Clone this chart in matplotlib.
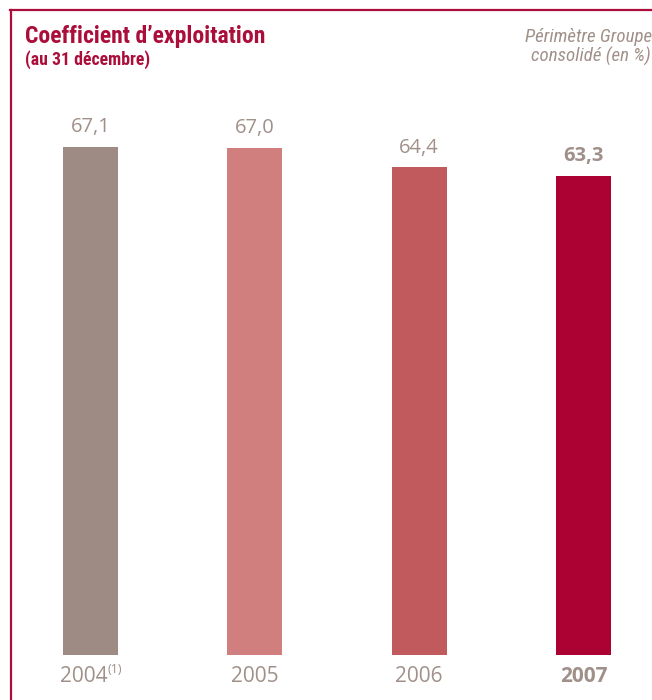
import matplotlib.pyplot as plt
from matplotlib.lines import Line2D

# ── Data ──────────────────────────────────
years = ["2004", "2005", "2006", "2007"]
values = [67.1, 67.0, 64.4, 63.3]
value_labels = ["67,1", "67,0", "64,4", "63,3"]
bar_colors = ["#9e8c84", "#d17e7e", "#c05a5c", "#ab0233"]

RED = "#ab0e3a"
GREY = "#a09089"
NARROW = ["Roboto Condensed", "Archivo Narrow", "DejaVu Sans"]
W, H = 652, 700

fig = plt.figure(figsize=(W / 100, H / 100), dpi=100)

# axes placed in pixel units so bars land where they should
ax = fig.add_axes([8.3 / W, 45 / H, 657.3 / W, 555 / H])
x = range(len(years))
ax.bar(x, values, width=0.335, color=bar_colors)
ax.set_xlim(-0.5, 3.5)
ax.set_ylim(0, 555 / 7.571)
ax.axis("off")

# value labels above bars
for i, (v, lab) in enumerate(zip(values, value_labels)):
    bold = i == len(values) - 1
    ax.annotate(lab, (i, v), xytext=(0, 7), textcoords="offset points",
                ha="center", va="bottom", fontsize=14.5, color=GREY,
                family="Open Sans", fontweight="bold" if bold else "normal")

# year labels under bars
for i, yr in enumerate(years):
    bold = i == len(years) - 1
    if i == 0:
        ax.annotate(yr, (i, 0), xytext=(12, -8), textcoords="offset points",
                    ha="right", va="top", fontsize=15, color=GREY,
                    family="Open Sans")
        ax.annotate("(1)", (i, 0), xytext=(12, -6), textcoords="offset points",
                    ha="left", va="top", fontsize=9, color=GREY,
                    family="Open Sans")
    else:
        ax.annotate(yr, (i, 0), xytext=(0, -8), textcoords="offset points",
                    ha="center", va="top", fontsize=15, color=GREY,
                    family="Open Sans", fontweight="bold" if bold else "normal")

# titles
fig.text(25 / W, 1 - 43 / H, "Coefficient d\u2019exploitation", fontsize=17,
         fontweight="bold", color=RED, family=NARROW)
fig.text(25 / W, 1 - 65 / H, "(au 31 décembre)", fontsize=12.8,
         fontweight="bold", color=RED, family=NARROW)
fig.text(652 / W, 1 - 42 / H, "Périmètre Groupe", fontsize=13.6,
         style="italic", color=GREY, ha="right", family=NARROW)
fig.text(651 / W, 1 - 62 / H, "consolidé (en %)", fontsize=13.6,
         style="italic", color=GREY, ha="right", family=NARROW)

# frame lines top and left
fig.add_artist(Line2D([11 / W, 11 / W], [0, 1 - 10 / H], color=RED, lw=1.6))
fig.add_artist(Line2D([10.2 / W, 1], [1 - 10 / H, 1 - 10 / H], color=RED, lw=1.6))

fig.savefig("out.png", dpi=100)
